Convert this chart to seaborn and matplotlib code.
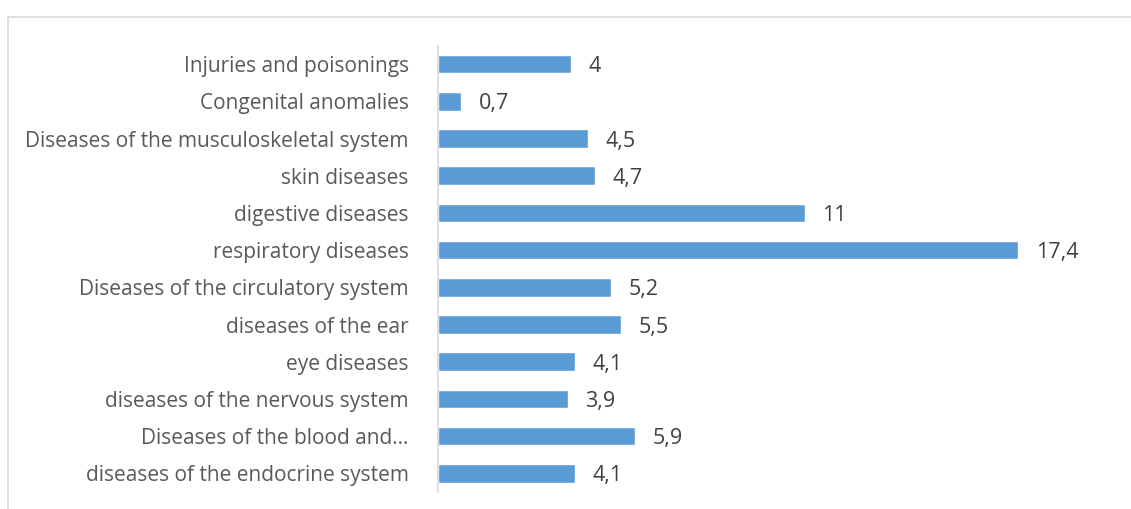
import matplotlib
matplotlib.use("Agg")
import matplotlib.pyplot as plt
import seaborn as sns
import pandas as pd
from matplotlib.lines import Line2D

categories = [
    "Injuries and poisonings",
    "Congenital anomalies",
    "Diseases of the musculoskeletal system",
    "skin diseases",
    "digestive diseases",
    "respiratory diseases",
    "Diseases of the circulatory system",
    "diseases of the ear",
    "eye diseases",
    "diseases of the nervous system",
    "Diseases of the blood and\u2026",
    "diseases of the endocrine system",
]
values = [4, 0.7, 4.5, 4.7, 11, 17.4, 5.2, 5.5, 4.1, 3.9, 5.9, 4.1]

df = pd.DataFrame({"category": categories, "value": values})

sns.set_theme(style="white")
plt.rcParams["font.family"] = ["Open Sans", "DejaVu Sans"]

fig = plt.figure(figsize=(11.31, 5.09), dpi=100)
ax = fig.add_axes([0.3873, 0.0334, 0.977 - 0.3873, 0.9106 - 0.0334])

sns.barplot(data=df, x="value", y="category", orient="h", color="#5B9BD5",
            width=0.5, saturation=1, ax=ax)

ax.set_xlim(0, 20)
ax.set_xlabel("")
ax.set_ylabel("")
ax.set_xticks([])
for s in ["top", "right", "bottom"]:
    ax.spines[s].set_visible(False)
ax.spines["left"].set_color("#D9D9D9")
ax.spines["left"].set_linewidth(1.2)
ax.tick_params(axis="y", length=0, pad=21, labelsize=15, labelcolor="#595959")

for i, v in enumerate(values):
    label = f"{v:g}".replace(".", ",")
    ax.text(v + 0.52, i, label, va="center_baseline", ha="left", fontsize=15.5, color="#404040")

# chart area frame
fig.add_artist(Line2D([8 / 1131, 1.0], [1 - 17 / 509, 1 - 17 / 509],
                      transform=fig.transFigure, color="#D9D9D9", lw=1.2))
fig.add_artist(Line2D([8 / 1131, 8 / 1131], [0.0, 1 - 17 / 509],
                      transform=fig.transFigure, color="#D9D9D9", lw=1.2))

fig.savefig("out.png", dpi=100)
